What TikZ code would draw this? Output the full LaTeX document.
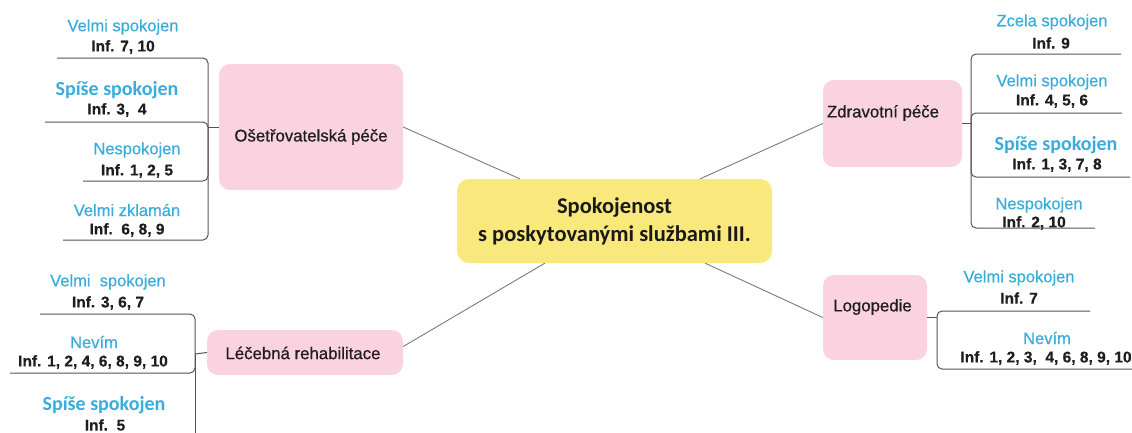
\documentclass[tikz,border=0pt]{standalone}
\usepackage{fontspec}
\setmainfont{Liberation Sans}
\newfontfamily\calib{Carlito}
\newfontfamily\lblfont{Liberation Sans}[FakeBold=0.5]
\newfontfamily\catfont{Liberation Sans}[FakeBold=0.6]
\newfontfamily\inffont{Liberation Sans}[BoldFeatures={FakeBold=0.4}]
\definecolor{pinkbox}{HTML}{FBD3E0}
\definecolor{yellowbox}{HTML}{F9E87C}
\definecolor{leafblue}{HTML}{3AACDA}
\definecolor{txt}{HTML}{1E1E1E}
\definecolor{conn}{HTML}{7A7A7A}
\definecolor{brk}{HTML}{555555}
\begin{document}
\begin{tikzpicture}[x=1pt,y=-1pt,
  catbox/.style={fill=pinkbox, rounded corners=11pt, inner sep=0pt, draw=none},
  cattext/.style={text=txt, inner sep=0pt, font=\catfont\fontsize{16.8}{20}\selectfont},
  ctrbox/.style={fill=yellowbox, rounded corners=12pt, inner sep=0pt, draw=none},
  ctrtext/.style={text=txt!85!black, inner sep=0pt, align=center, font=\calib\bfseries\fontsize{22.5}{28}\selectfont},
  lbl/.style={text=leafblue, inner sep=0pt, font=\lblfont\fontsize{16.5}{19}\selectfont},
  lblb/.style={text=leafblue, inner sep=0pt, font=\calib\bfseries\fontsize{20}{22}\selectfont},
  inf/.style={text=txt, inner sep=0pt, font=\inffont\bfseries\fontsize{15.5}{18}\selectfont},
  connector/.style={draw=conn, line width=0.9pt},
  bracket/.style={draw=brk, line width=1pt, rounded corners=5pt}]
\useasboundingbox (0,0) rectangle (1132,432);

% centre
\node[ctrbox, minimum width=315pt, minimum height=84pt] (ctr) at (614.5,221) {};
\node[ctrtext] (ctrt) at (614.5,221) {Spokojenost\\s poskytovanými službami III.};

% category boxes
\node[catbox, minimum width=184pt, minimum height=126pt] (ose) at (311,127) {};
\node[cattext] (oset) at (311,137) {Ošetřovatelská péče};
\node[catbox, minimum width=139pt, minimum height=87pt] (zdr) at (892.5,123.5) {};
\node[cattext] (zdrt) at (883,113) {Zdravotní péče};
\node[catbox, minimum width=104pt, minimum height=85pt] (logo) at (875,317.5) {};
\node[cattext] (logot) at (872.5,307) {Logopedie};
\node[catbox, minimum width=196pt, minimum height=45pt] (leh) at (305,352.5) {};
\node[cattext] (leht) at (303,353) {Léčebná rehabilitace};

% connectors from centre
\draw[connector] ([xshift=63pt]ctr.north west) -- (ose.east);
\draw[connector] ([xshift=-72pt]ctr.north east) -- (zdr.west);
\draw[connector] ([xshift=88pt]ctr.south west) -- ([yshift=6pt]leh.east);
\draw[connector] ([xshift=-67pt]ctr.south east) -- (logo.west);

% Ošetřovatelská péče leaves
\coordinate (j1) at (208,127);
\draw[bracket] (ose.west) -- (j1);
\node[lbl] (o1a) at (123,27) {Velmi spokojen};
\node[inf] (o1b) at (123,47) {Inf. 7, 10};
\coordinate (o1e) at (57,58);
\node[lblb] (o2a) at (117,90) {Spíše spokojen};
\node[inf] (o2b) at (117,110) {Inf. 3,\ \ 4};
\coordinate (o2e) at (45,122);
\node[lbl] (o3a) at (137,150) {Nespokojen};
\node[inf] (o3b) at (137,171) {Inf. 1, 2, 5};
\coordinate (o3e) at (83,181);
\node[lbl] (o4a) at (127,210) {Velmi zklamán};
\node[inf] (o4b) at (127,230) {Inf.\ \ 6, 8, 9};
\coordinate (o4e) at (63,240);
\draw[bracket] (j1) |- (o1e);
\draw[bracket] (j1) |- (o2e);
\draw[bracket] (j1) |- (o3e);
\draw[bracket] (j1) |- (o4e);

% Zdravotní péče leaves
\coordinate (j2) at (971,123.5);
\draw[bracket] (zdr.east) -- (j2);
\node[lbl] (z1a) at (1052,22) {Zcela spokojen};
\node[inf] (z1b) at (1051,43) {Inf. 9};
\coordinate (z1e) at (1121,54);
\node[lbl] (z2a) at (1052,82) {Velmi spokojen};
\node[inf] (z2b) at (1052,101) {Inf. 4, 5, 6};
\coordinate (z2e) at (1122,113);
\node[lblb] (z3a) at (1056,145) {Spíše spokojen};
\node[inf] (z3b) at (1057,165) {Inf. 1, 3, 7, 8};
\coordinate (z3e) at (1130,177);
\node[lbl] (z4a) at (1039,205) {Nespokojen};
\node[inf] (z4b) at (1034,223) {Inf. 2, 10};
\coordinate (z4e) at (1095,228);
\draw[bracket] (j2) |- (z1e);
\draw[bracket] (j2) |- (z2e);
\draw[bracket] (j2) |- (z3e);
\draw[bracket] (j2) |- (z4e);

% Logopedie leaves
\coordinate (j3) at (937,317.5);
\draw[bracket] (logo.east) -- (j3);
\node[lbl] (l1a) at (1019,278) {Velmi spokojen};
\node[inf] (l1b) at (1019,298) {Inf. 7};
\coordinate (l1e) at (1090,311);
\node[lbl] (l2a) at (1047,338) {Nevím};
\node[inf] (l2b) at (1046,358) {Inf. 1, 2, 3,\ \ 4, 6, 8, 9, 10};
\coordinate (l2e) at (1134,369);
\draw[bracket] (j3) |- (l1e);
\draw[bracket] (j3) |- (l2e);

% Léčebná rehabilitace leaves
\coordinate (j4) at (195,354);
\draw[bracket] (leh.west) -- (j4);
\node[lbl] (r1a) at (108,282) {Velmi\ \ spokojen};
\node[inf] (r1b) at (108,303) {Inf. 3, 6, 7};
\coordinate (r1e) at (40,314);
\node[lbl] (r2a) at (94,342) {Nevím};
\node[inf] (r2b) at (93,362) {Inf. 1, 2, 4, 6, 8, 9, 10};
\coordinate (r2e) at (10,373);
\node[lblb] (r3a) at (104,405) {Spíše spokojen};
\node[inf] (r3b) at (105,425) {Inf.\ \ 5};
\coordinate (r3e) at (195,440);
\draw[bracket] (j4) |- (r1e);
\draw[bracket] (j4) |- (r2e);
\draw[bracket] (j4) -- (r3e);
\end{tikzpicture}
\end{document}
